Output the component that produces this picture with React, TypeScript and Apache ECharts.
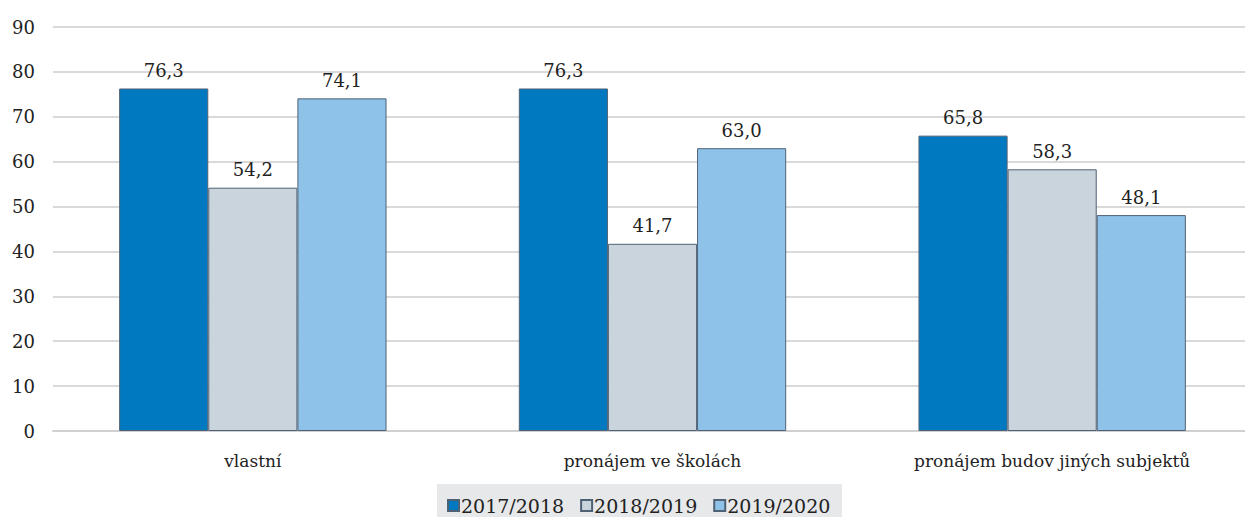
import React, { useEffect, useRef } from "react";
import * as echarts from "echarts";

const categories = ["vlastní", "pronájem ve školách", "pronájem budov jiných subjektů"];
const seriesNames = ["2017/2018", "2018/2019", "2019/2020"];
const values2017 = [76.3, 76.3, 65.8];
const values2018 = [54.2, 41.7, 58.3];
const values2019 = [74.1, 63.0, 48.1];
const colors = ["#0079C1", "#CAD4DD", "#8EC2E8"];

const FONT = "DejaVu Serif";

export default function App() {
  const ref = useRef<HTMLDivElement>(null);
  useEffect(() => {
    if (!ref.current) return;
    const chart = echarts.init(ref.current, null, { renderer: "svg" });
    const data = [values2017, values2018, values2019];
    chart.setOption({
      animation: false,
      textStyle: { fontFamily: FONT },
      grid: { left: 53, right: 0, top: 27, bottom: 86 },
      graphic: [
        {
          type: "rect",
          left: 437,
          top: 484,
          shape: { width: 405, height: 33 },
          style: { fill: "#E7E8EA" },
          z: -1,
        },
      ],
      legend: {
        left: 442,
        top: 491,
        icon: "rect",
        itemWidth: 11,
        itemHeight: 11,
        itemGap: 16,
        textStyle: { fontFamily: FONT, fontSize: 19, color: "#222", padding: [0, 0, 0, -3] },
        data: seriesNames,
      },
      xAxis: {
        type: "category",
        data: categories,
        axisLine: { lineStyle: { color: "#D0D0D0", width: 2 } },
        axisTick: { show: false },
        axisLabel: { fontFamily: FONT, fontSize: 17, color: "#222", margin: 21, interval: 0 },
      },
      yAxis: {
        type: "value",
        min: 0,
        max: 90,
        interval: 10,
        axisLine: { show: false },
        axisTick: { show: false },
        splitLine: { lineStyle: { color: "#D9D9D9", width: 2 } },
        axisLabel: { fontFamily: FONT, fontSize: 18, color: "#222", margin: 18 },
      },
      series: seriesNames.map((name, i) => ({
        name,
        type: "bar",
        data: data[i],
        barWidth: "22.3%",
        barGap: "0%",
        itemStyle: { color: colors[i], borderColor: "#4F6275", borderWidth: 1 },
        label: {
          show: true,
          position: "top",
          distance: 9,
          fontFamily: FONT,
          fontSize: 18,
          color: "#222",
          formatter: (p: any) => p.value.toFixed(1).replace(".", ","),
        },
      })),
    });
    return () => chart.dispose();
  }, []);
  return (
    <div style={{ position: "fixed", left: 0, top: 0, width: 1245, height: 517, overflow: "hidden", background: "#fff" }}>
      <div ref={ref} style={{ width: 1252, height: 517 }} />
    </div>
  );
}
